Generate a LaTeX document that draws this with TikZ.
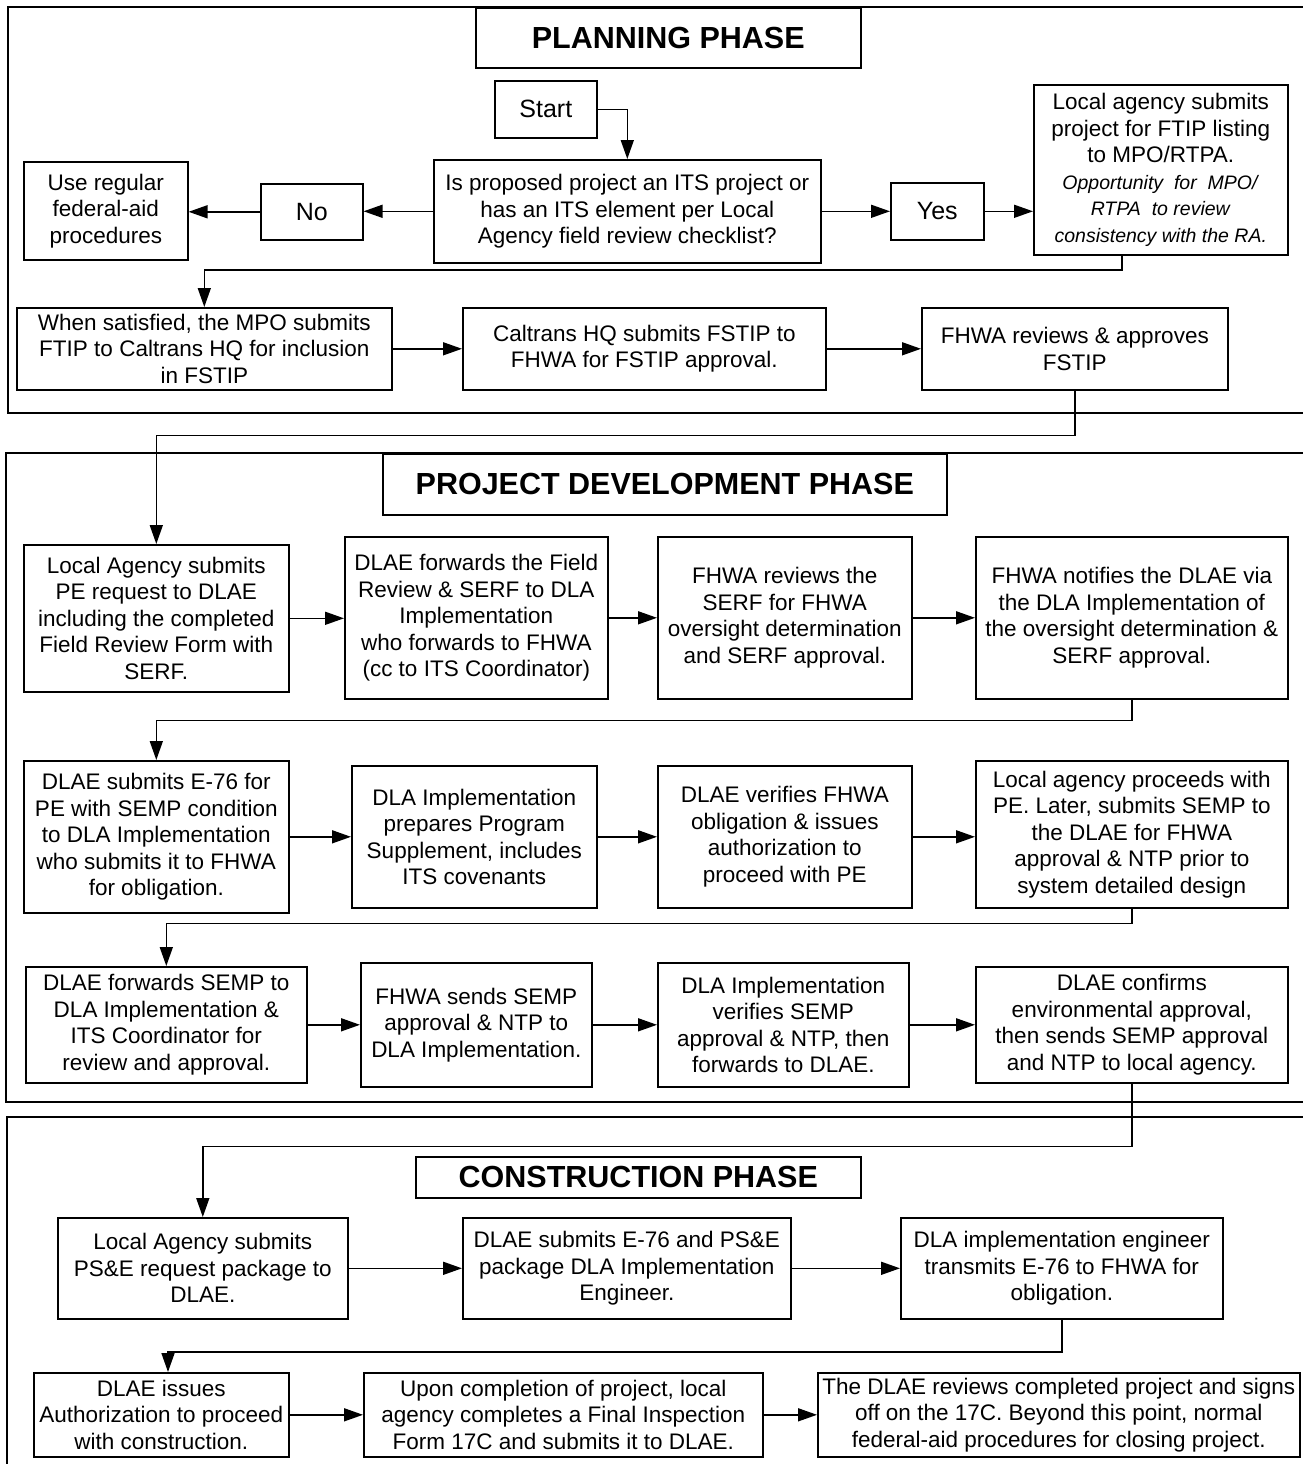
\documentclass[tikz,border=0pt]{standalone}
\usepackage{fontspec}
\setmainfont{Liberation Sans}
\usetikzlibrary{arrows.meta}

\begin{document}
\begin{tikzpicture}[x=1pt, y=-1pt,
  line width=1.6pt,
  block/.style={rectangle, draw, anchor=north west, inner sep=2pt, align=center,
    font=\fontsize{22.5}{26.5}\selectfont},
  bigbox/.style={block, font=\fontsize{25}{28}\selectfont},
  phase/.style={block, font=\fontsize{30.5}{34}\selectfont\bfseries},
  flow/.style={-{Triangle[length=19pt,width=13pt]}},
  ]
  \useasboundingbox (0,0) rectangle (1303,1464);
  % frames of the three phases
  \draw (8,7) rectangle (1320,413);
  \draw (6,453) rectangle (1320,1102);
  \draw (7,1117) rectangle (1320,1480);

  % planning phase
  \node[phase, minimum width=385pt, minimum height=60pt] (ttlPlan) at (475,7) {PLANNING PHASE};
  \node[bigbox, minimum width=102pt, minimum height=57pt] (start) at (494,80) {Start};
  \node[block, minimum width=387pt, minimum height=103pt] (question) at (433,159)
    {Is proposed project an ITS project or\\has an ITS element per Local\\Agency field review checklist?};
  \node[bigbox, minimum width=102pt, minimum height=56pt] (no) at (260,183) {No};
  \node[block, minimum width=164pt, minimum height=98pt] (useReg) at (23,161)
    {Use regular\\federal-aid\\procedures};
  \node[bigbox, minimum width=93pt, minimum height=57pt] (yes) at (890,182) {Yes};
  \node[block, minimum width=254pt, minimum height=170pt] (localSub) at (1033,84)
    {Local agency submits\\project for FTIP listing\\to MPO/RTPA.\\
     \textit{\fontsize{19.5}{26.5}\selectfont Opportunity\ \ for\ \ MPO/}\\
     \textit{\fontsize{19.5}{26.5}\selectfont RTPA\ \ to review}\\
     \textit{\fontsize{19.5}{26.5}\selectfont consistency with the RA.}};
  \node[block, minimum width=375pt, minimum height=82pt] (whenSat) at (16,307)
    {When satisfied, the MPO submits\\FTIP to Caltrans HQ for inclusion\\in FSTIP};
  \node[block, minimum width=363pt, minimum height=82pt] (caltrans) at (462,307)
    {Caltrans HQ submits FSTIP to\\FHWA for FSTIP approval.};
  \node[block, minimum width=306pt, minimum height=82pt] (fhwaRev) at (921,307)
    {FHWA reviews \& approves\\FSTIP};
  \coordinate (bendPlan) at (1122,270);

  \draw[flow] (start.east) -| (question.north);
  \draw[flow] (question.west) -- (question.west -| no.east);
  \draw[flow] (no.west) -- (no.west -| useReg.east);
  \draw[flow] (question.east) -- (question.east -| yes.west);
  \draw[flow] (yes.east) -- (yes.east -| localSub.west);
  \draw[flow] (localSub.south -| bendPlan) -- (bendPlan) -| (whenSat.north);
  \draw[flow] (whenSat.east) -- (caltrans.west);
  \draw[flow] (caltrans.east) -- (fhwaRev.west);

  % project development phase
  \node[phase, minimum width=564pt, minimum height=61pt] (ttlDev) at (382,453) {PROJECT DEVELOPMENT PHASE};
  \node[block, minimum width=265pt, minimum height=147pt] (peReq) at (23,544)
    {Local Agency submits\\PE request to DLAE\\including the completed\\Field Review Form with\\SERF.};
  \node[block, minimum width=263pt, minimum height=162pt] (dlaeFwd) at (344,536)
    {DLAE forwards the Field\\Review \& SERF to DLA\\Implementation\\who forwards to FHWA\\(cc to ITS Coordinator)};
  \node[block, minimum width=254pt, minimum height=162pt] (fhwaSerf) at (657,536)
    {FHWA reviews the\\SERF for FHWA\\oversight determination\\and SERF approval.};
  \node[block, minimum width=312pt, minimum height=162pt] (fhwaNotif) at (975,536)
    {FHWA notifies the DLAE via\\the DLA Implementation of\\the oversight determination \&\\SERF approval.};

  \node[block, minimum width=265pt, minimum height=152pt] (e76) at (23,760)
    {DLAE submits E-76 for\\PE with SEMP condition\\to DLA Implementation\\who submits it to FHWA\\for obligation.};
  \node[block, minimum width=245pt, minimum height=142pt] (progSup) at (351,765)
    {DLA Implementation\\prepares Program\\Supplement, includes\\ITS covenants};
  \node[block, minimum width=254pt, minimum height=142pt] (dlaeVer) at (657,765)
    {DLAE verifies FHWA\\obligation \& issues\\authorization to\\proceed with PE};
  \node[block, minimum width=312pt, minimum height=147pt] (laProc) at (975,760)
    {Local agency proceeds with\\PE. Later, submits SEMP to\\the DLAE for FHWA\\approval \& NTP prior to\\system detailed design};

  \node[block, minimum width=281pt, minimum height=116pt] (semp) at (25,966)
    {DLAE forwards SEMP to\\DLA Implementation \&\\ITS Coordinator for\\review and approval.};
  \node[block, minimum width=231pt, minimum height=124pt] (fhwaSemp) at (360,962)
    {FHWA sends SEMP\\approval \& NTP to\\DLA Implementation.};
  \node[block, minimum width=251pt, minimum height=124pt] (dlaVer) at (657,962)
    {DLA Implementation\\verifies SEMP\\approval \& NTP, then\\forwards to DLAE.};
  \node[block, minimum width=312pt, minimum height=116pt] (dlaeConf) at (975,966)
    {DLAE confirms\\environmental approval,\\then sends SEMP approval\\and NTP to local agency.};

  \draw[flow] (fhwaRev.south) -- ++(0,45) -| (peReq.north);
  \draw[flow] (peReq.east) -- (peReq.east -| dlaeFwd.west);
  \draw[flow] (dlaeFwd.east) -- (dlaeFwd.east -| fhwaSerf.west);
  \draw[flow] (fhwaSerf.east) -- (fhwaSerf.east -| fhwaNotif.west);
  \draw[flow] (fhwaNotif.south) -- ++(0,21) -| (e76.north);
  \draw[flow] (e76.east) -- (e76.east -| progSup.west);
  \draw[flow] (progSup.east) -- (progSup.east -| dlaeVer.west);
  \draw[flow] (dlaeVer.east) -- (dlaeVer.east -| laProc.west);
  \draw[flow] (laProc.south) -- ++(0,15) -| (semp.north);
  \draw[flow] (semp.east) -- (semp.east -| fhwaSemp.west);
  \draw[flow] (fhwaSemp.east) -- (fhwaSemp.east -| dlaVer.west);
  \draw[flow] (dlaVer.east) -- (dlaVer.east -| dlaeConf.west);

  % construction phase
  \node[phase, minimum width=445pt, minimum height=41pt] (ttlCon) at (415,1156) {CONSTRUCTION PHASE};
  \node[block, minimum width=290pt, minimum height=101pt] (psReq) at (57,1217)
    {Local Agency submits\\PS\&E request package to\\DLAE.};
  \node[block, minimum width=328pt, minimum height=101pt] (dlaeSub) at (462,1217)
    {DLAE submits E-76 and PS\&E\\package DLA Implementation\\Engineer.};
  \node[block, minimum width=322pt, minimum height=101pt] (dlaEng) at (900,1217)
    {DLA implementation engineer\\transmits E-76 to FHWA for\\obligation.};
  \node[block, minimum width=255pt, minimum height=84pt] (auth) at (33,1372)
    {DLAE issues\\Authorization to proceed\\with construction.};
  \node[block, minimum width=399pt, minimum height=84pt] (final) at (363,1372)
    {Upon completion of project, local\\agency completes a Final Inspection\\Form 17C and submits it to DLAE.};
  \node[block, minimum width=482pt, minimum height=84pt] (signOff) at (817,1372)
    {The DLAE reviews completed project and signs\\off on the 17C. Beyond this point, normal\\federal-aid procedures for closing project.};
  \coordinate (bendCon) at (168,1352);

  \draw[flow] (dlaeConf.south) -- ++(0,63) -| (psReq.north);
  \draw[flow] (psReq.east) -- (psReq.east -| dlaeSub.west);
  \draw[flow] (dlaeSub.east) -- (dlaeSub.east -| dlaEng.west);
  \draw[flow] (dlaEng.south) |- (bendCon) -- (bendCon |- auth.north);
  \draw[flow] (auth.east) -- (auth.east -| final.west);
  \draw[flow] (final.east) -- (final.east -| signOff.west);
\end{tikzpicture}
\end{document}
